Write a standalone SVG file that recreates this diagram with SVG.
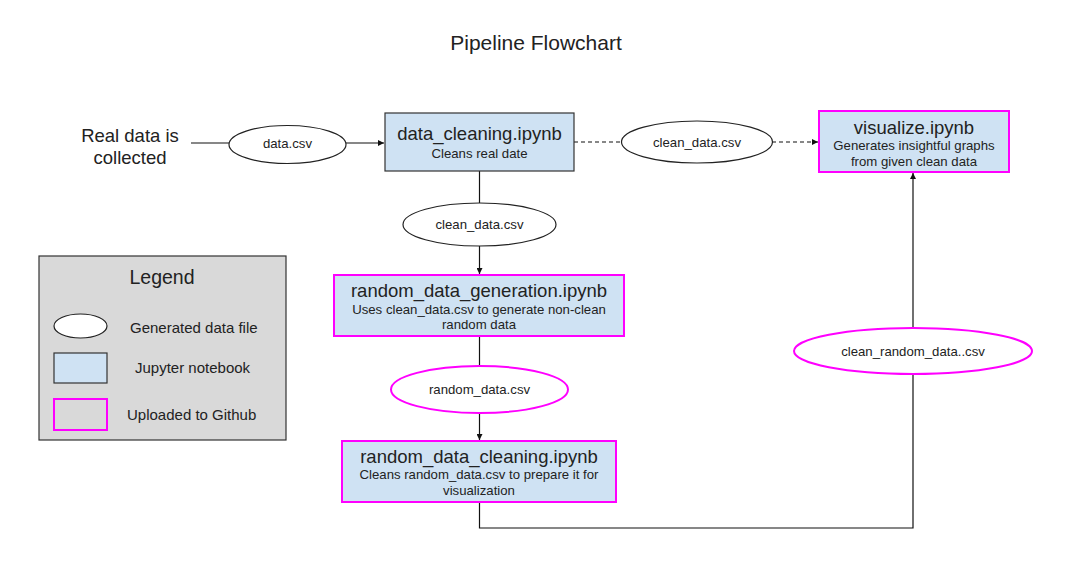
<svg xmlns="http://www.w3.org/2000/svg" width="1072" height="577" viewBox="0 0 1072 577">
<style>
text{font-family:"Liberation Sans",Arial,sans-serif;fill:#222;text-anchor:middle}
.t{font-size:18.5px}
.s{font-size:13.2px}
.lg{font-size:15px;text-anchor:start}
.nb{fill:#cfe2f3;stroke:#333;stroke-width:1.2}
.el{fill:#fff;stroke:#222;stroke-width:1.2}
.gh{stroke:#f0f;stroke-width:2}
.ln{fill:none;stroke:#111;stroke-width:1.2}
.da{stroke-dasharray:4 3}
</style>
<defs>
<marker id="ah" viewBox="0 0 8 8" refX="8" refY="4" markerWidth="6" markerHeight="6" markerUnits="userSpaceOnUse" orient="auto">
<path d="M0,0 L8,4 L0,8 z" fill="#111"/>
</marker>
</defs>
<rect width="1072" height="577" fill="#fff"/>
<text x="536" y="50" style="font-size:21px">Pipeline Flowchart</text>

<g id="connectors">
<line class="ln" x1="191" y1="143" x2="229" y2="143"/>
<line class="ln" x1="346" y1="143" x2="384" y2="143" marker-end="url(#ah)"/>
<line class="ln da" x1="574" y1="142" x2="621" y2="142"/>
<line class="ln da" x1="772" y1="142" x2="818" y2="142" marker-end="url(#ah)"/>
<line class="ln" x1="479.5" y1="171" x2="479.5" y2="203"/>
<line class="ln" x1="479.5" y1="246" x2="479.5" y2="274" marker-end="url(#ah)"/>
<line class="ln" x1="479.5" y1="336" x2="479.5" y2="366"/>
<line class="ln" x1="479.5" y1="413" x2="479.5" y2="440" marker-end="url(#ah)"/>
<polyline class="ln" points="479.5,502 479.5,528 913,528 913,374"/>
<line class="ln" x1="913" y1="328" x2="913" y2="173" marker-end="url(#ah)"/>
</g>

<g id="real-data">
<text x="130" y="142" style="font-size:18.5px">Real data is</text>
<text x="130" y="164" style="font-size:18.5px">collected</text>
</g>

<g id="data-csv">
<ellipse class="el" cx="287.5" cy="144.5" rx="58.5" ry="19"/>
<text class="s" x="287.5" y="148">data.csv</text>
</g>

<g id="data-cleaning">
<rect class="nb" x="385" y="113" width="189" height="58"/>
<text class="t" x="479.5" y="140">data_cleaning.ipynb</text>
<text class="s" x="479.5" y="158">Cleans real date</text>
</g>

<g id="clean-data-csv-1">
<ellipse class="el" cx="697" cy="142" rx="75.5" ry="21"/>
<text class="s" x="697" y="146.5">clean_data.csv</text>
</g>

<g id="visualize">
<rect class="nb gh" x="819" y="111" width="190" height="61"/>
<text class="t" x="914" y="134">visualize.ipynb</text>
<text class="s" x="914" y="150">Generates insightful graphs</text>
<text class="s" x="914" y="166">from given clean data</text>
</g>

<g id="clean-data-csv-2">
<ellipse class="el" cx="479.5" cy="224.5" rx="76.5" ry="21.5"/>
<text class="s" x="479.5" y="229">clean_data.csv</text>
</g>

<g id="random-data-generation">
<rect class="nb gh" x="334" y="275" width="290" height="61"/>
<text class="t" x="479" y="297">random_data_generation.ipynb</text>
<text class="s" x="479" y="314">Uses clean_data.csv to generate non-clean</text>
<text class="s" x="479" y="329">random data</text>
</g>

<g id="random-data-csv">
<ellipse class="el gh" cx="479.5" cy="389.5" rx="88.5" ry="23.5"/>
<text class="s" x="479.5" y="394">random_data.csv</text>
</g>

<g id="random-data-cleaning">
<rect class="nb gh" x="342" y="441" width="274" height="61"/>
<text class="t" x="479" y="463">random_data_cleaning.ipynb</text>
<text class="s" x="479" y="479">Cleans random_data.csv to prepare it for</text>
<text class="s" x="479" y="495">visualization</text>
</g>

<g id="clean-random-data-csv">
<ellipse class="el gh" cx="913" cy="351" rx="119" ry="23"/>
<text class="s" x="913" y="355.5">clean_random_data..csv</text>
</g>

<g id="legend">
<rect x="39" y="256" width="247" height="184" fill="#d9d9d9" stroke="#333" stroke-width="1.2"/>
<text x="162" y="284" style="font-size:19.5px">Legend</text>
<ellipse class="el" cx="80.5" cy="326" rx="26.5" ry="12"/>
<text class="lg" x="130" y="333">Generated data file</text>
<rect class="nb" x="54" y="353" width="53" height="30"/>
<text class="lg" x="135" y="373">Jupyter notebook</text>
<rect x="54" y="399" width="53" height="31" fill="#d9d9d9" stroke="#f0f" stroke-width="2"/>
<text class="lg" x="127" y="420">Uploaded to Github</text>
</g>
</svg>
